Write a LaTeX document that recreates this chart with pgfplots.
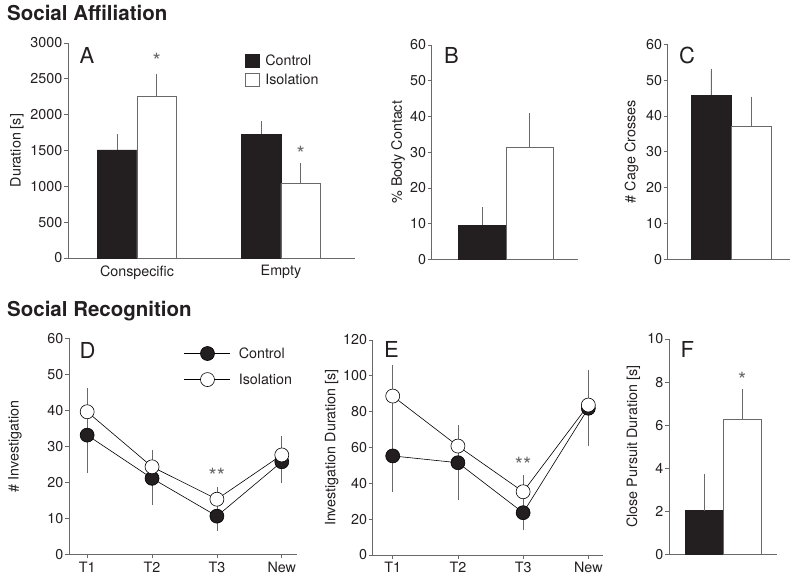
\documentclass[border=0pt]{standalone}
\usepackage{fontspec}
\setmainfont{TeX Gyre Heros}
\usepackage{pgfplots}
\pgfplotsset{compat=1.18}
\definecolor{axgray}{RGB}{105,105,105}
\definecolor{barblack}{RGB}{35,31,32}
\definecolor{txt}{RGB}{35,31,32}
\newcommand{\tfont}{\fontsize{14.3}{16}\selectfont}
\newcommand{\pfont}{\fontsize{22}{24}\selectfont}
\newcommand{\afont}{\fontsize{21}{22}\selectfont}
\pgfplotsset{
 panel/.style={
  scale only axis,
  axis x line*=bottom, axis y line*=left,
  axis line style={axgray, line width=0.7pt},
  every tick/.style={axgray, line width=0.7pt},
  tick align=outside, major tick length=4pt,
  /pgf/number format/assume math mode=true,
  /pgf/number format/1000 sep={},
  tick label style={font=\tfont, text=txt},
  yticklabel style={inner sep=1.5pt},
  every axis y label/.style={rotate=90, anchor=center, font=\tfont, text=txt},
  clip=false,
  ymin=0,
 },
 barpanel/.style={panel, ybar=0pt, xtick=\empty,
   legend image code/.code={\draw[##1,/tikz/.cd] (0pt,-6.5pt) rectangle (13.3pt,6.5pt);},
 },
 ctrlbar/.style={fill=barblack, draw=barblack,
   error bars/y dir=plus, error bars/y explicit,
   error bars/error bar style={axgray, line width=0.7pt},
   error bars/error mark options={axgray, mark size=2.5pt, line width=0.7pt}},
 isobar/.style={fill=white, draw=axgray, line width=0.7pt,
   error bars/y dir=plus, error bars/y explicit,
   error bars/error bar style={axgray, line width=0.7pt},
   error bars/error mark options={axgray, mark size=2.5pt, line width=0.7pt}},
 linepanel/.style={panel, xtick={1,2,3,4}, xticklabels={T1,T2,T3,New},
   legend image code/.code={\draw[mark repeat=2, mark phase=2, ##1] plot coordinates {(0pt,0pt) (23pt,0pt) (46pt,0pt)};},
 },
 ctrlline/.style={black, line width=0.6pt, mark=*, mark size=7pt,
   mark options={fill=barblack, draw=black},
   error bars/y dir=both, error bars/y explicit,
   error bars/error bar style={axgray, line width=0.7pt},
   error bars/error mark options={axgray, mark size=2.5pt, line width=0.7pt}},
 isoline/.style={black, line width=0.6pt, mark=*, mark size=7pt,
   mark options={fill=white, draw=black},
   error bars/y dir=both, error bars/y explicit,
   error bars/error bar style={axgray, line width=0.7pt},
   error bars/error mark options={axgray, mark size=2.5pt, line width=0.7pt}},
}
\begin{document}
\begin{tikzpicture}[x=1pt, y=1pt]
\useasboundingbox (0,0) rectangle (798,578);
% titles
\node[anchor=base west, inner sep=0, text=txt, font=\bfseries\fontsize{20.5}{22}\selectfont] at (7,557.3) {Social Affiliation};
\node[anchor=base west, inner sep=0, text=txt, font=\bfseries\fontsize{20.5}{22}\selectfont] at (7,261.3) {Social Recognition};

% ---------- A ----------
\begin{axis}[barpanel, at={(68pt,320pt)}, anchor=south west,
  width=287pt, height=215pt, bar width=39.5pt,
  xmin=-0.479, xmax=1.514, ymax=3000, ytick={0,500,...,3000},
  xtick={0,1}, xticklabels={Conspecific,Empty}, major x tick style={draw=none},
  ylabel={Duration [s]}, ylabel style={at={(axis description cs:-0.1777,0.5)}},
  legend style={at={(axis description cs:0.617,0.955)}, anchor=north west, draw=none, fill=none,
    inner sep=0pt, row sep=3pt, font=\tfont, nodes={inner sep=2pt, text=txt}},
  legend cell align=left]
\addplot[ctrlbar] coordinates {(0,1510) +- (0,180) (1,1730) +- (0,150)};
\addlegendentry{\hspace{4pt}Control}
\addplot[isobar] coordinates {(0,2260) +- (0,270) (1,1040) +- (0,255)};
\addlegendentry{\hspace{4pt}Isolation}
\node[anchor=north, inner sep=0, text=axgray, font=\afont] at (axis cs:0.137,2860) {*};
\node[anchor=north, inner sep=0, text=axgray, font=\afont] at (axis cs:1.137,1565) {*};
\end{axis}
\node[anchor=base west, inner sep=0, text=txt, font=\pfont] at (79.5,514) {A};

% ---------- B ----------
\begin{axis}[barpanel, at={(431.7pt,318.7pt)}, anchor=south west,
  width=146.3pt, height=214.3pt, bar width=47.5pt,
  xmin=-1.564, xmax=1.516, ymax=60, ytick={0,10,...,60},
  ylabel={\% Body Contact}, ylabel style={at={(axis description cs:-0.2303,0.5)}}]
\addplot[ctrlbar] coordinates {(0,9.6) +- (0,4.4)};
\addplot[isobar] coordinates {(0,31.3) +- (0,9.0)};
\end{axis}
\node[anchor=base west, inner sep=0, text=txt, font=\pfont] at (444,514.7) {B};

% ---------- C ----------
\begin{axis}[barpanel, at={(667.7pt,318.7pt)}, anchor=south west,
  width=122.3pt, height=215pt, bar width=40.3pt,
  xmin=-1.571, xmax=1.464, ymax=60, ytick={0,10,...,60},
  ylabel={\# Cage Crosses}, ylabel style={at={(axis description cs:-0.2944,0.5)}}]
\addplot[ctrlbar] coordinates {(0,45.9) +- (0,6.6)};
\addplot[isobar] coordinates {(0,37.0) +- (0,7.6)};
\end{axis}
\node[anchor=base west, inner sep=0, text=txt, font=\pfont] at (679,514.7) {C};

% ---------- D ----------
\begin{axis}[linepanel, at={(69pt,23.7pt)}, anchor=south west,
  width=227.7pt, height=216pt,
  xmin=0.72, xmax=4.23, ymax=60, ytick={0,10,...,60},
  ylabel={\# Investigation}, ylabel style={at={(axis description cs:-0.2372,0.5)}},
  legend style={at={(axis description cs:0.505,0.968)}, anchor=north west, draw=none, fill=none,
    inner sep=0pt, row sep=10pt, font=\tfont, nodes={inner sep=2pt, text=txt}},
  legend cell align=left]
\addplot[ctrlline] coordinates {(1,33.1) +- (0,9.7) (2,21.1) +- (0,6.7) (3,10.6) +- (0,3.4) (4,25.7) +- (0,5.3)};
\addlegendentry{\hspace{6pt}Control}
\addplot[isoline] coordinates {(1,39.6) +- (0,6.0) (2,24.3) +- (0,4.0) (3,15.3) +- (0,2.8) (4,27.6) +- (0,4.6)};
\addlegendentry{\hspace{6pt}Isolation}
\node[anchor=north, inner sep=0, text=axgray, font=\afont] at (axis cs:3,24) {**};
\end{axis}
\node[anchor=base west, inner sep=0, text=txt, font=\pfont] at (79.5,219.7) {D};

% ---------- E ----------
\begin{axis}[linepanel, at={(372.7pt,23pt)}, anchor=south west,
  width=230.3pt, height=215pt,
  xmin=0.693, xmax=4.225, ymax=120, ytick={0,20,...,120},
  ylabel={Investigation Duration [s]}, ylabel style={at={(axis description cs:-0.178,0.5)}}]
\addplot[ctrlline] coordinates {(1,55.3) +- (0,18.6) (2,51.5) +- (0,19.5) (3,23.6) +- (0,8.4) (4,81.9) +- (0,19.8)};
\addplot[isoline] coordinates {(1,88.7) +- (0,15.8) (2,60.8) +- (0,9.9) (3,35.3) +- (0,8.1) (4,83.7) +- (0,15.0)};
\node[anchor=north, inner sep=0, text=axgray, font=\afont] at (axis cs:3,54.5) {**};
\end{axis}
\node[anchor=base west, inner sep=0, text=txt, font=\pfont] at (384,220.5) {E};

% ---------- F ----------
\begin{axis}[barpanel, at={(669pt,23.7pt)}, anchor=south west,
  width=107.7pt, height=215.3pt, bar width=38pt,
  xmin=-1.43, xmax=1.405, ymax=10, ytick={0,2,...,10},
  ylabel={Close Pursuit Duration [s]}, ylabel style={at={(axis description cs:-0.3315,0.5)}}]
\addplot[ctrlbar] coordinates {(0,2.03) +- (0,1.6)};
\addplot[isobar] coordinates {(0,6.29) +- (0,1.27)};
\node[anchor=north, inner sep=0, text=axgray, font=\afont] at (axis cs:0.5,8.45) {*};
\end{axis}
\node[anchor=base west, inner sep=0, text=txt, font=\pfont] at (680.5,220) {F};
\end{tikzpicture}
\end{document}
